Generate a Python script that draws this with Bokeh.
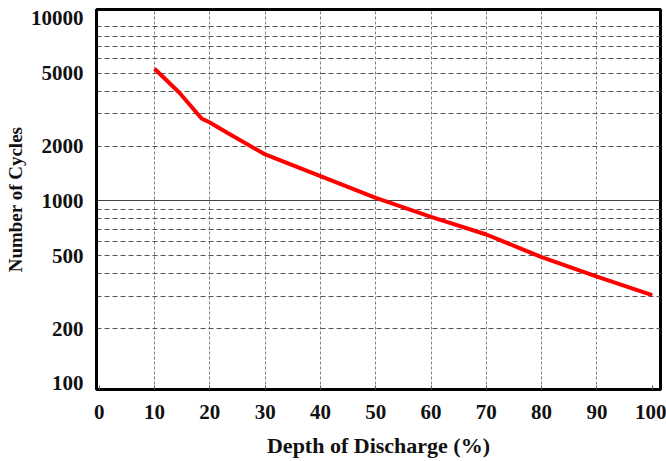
from bokeh.plotting import figure
from bokeh.models import FixedTicker, CustomJSTickFormatter, Grid, Range1d
from bokeh.embed import file_html
from bokeh.resources import INLINE

# Data
dod = [10, 14.5, 18.5, 20, 23.3, 30, 40, 50, 60, 70, 80, 90, 100]
cycles = [5300, 3920, 2830, 2690, 2350, 1800, 1370, 1040, 818, 655, 492, 385, 305]

x_ticks = [0, 10, 20, 30, 40, 50, 60, 70, 80, 90, 100]
x_grid = [10, 20, 30, 40, 50, 60, 70, 80, 90]
y_ticks = [100, 200, 500, 1000, 2000, 5000, 10000]
y_grid = [200, 300, 400, 500, 600, 700, 800, 900,
          2000, 3000, 4000, 5000, 6000, 7000, 8000, 9000]
y_solid = [1000]

FONT = "Liberation Serif"
TXT = "#111111"

p = figure(width=666, height=460, y_axis_type="log",
           x_range=Range1d(-0.5, 101.5), y_range=Range1d(92.7, 11200),
           output_backend="svg", toolbar_location=None,
           min_border_left=96, min_border_right=6, min_border_top=9,
           min_border_bottom=0, background_fill_color="white",
           border_fill_color="white")

p.line(dod, cycles, line_color="#ff0000", line_width=4)

p.outline_line_color = "black"
p.outline_line_width = 3
p.outline_line_alpha = 1

# X axis
xa = p.xaxis[0]
xa.ticker = FixedTicker(ticks=x_ticks)
xa.axis_label = "Depth of Discharge (%)"
xa.major_tick_in = 4
xa.major_tick_out = 0
xa.minor_tick_line_color = None
xa.axis_line_color = "black"
xa.axis_line_width = 3
xa.major_tick_line_color = "#555555"
xa.major_label_standoff = 15
xa.axis_label_standoff = 11
xa.axis_label_text_font_size = "22px"

# Y axis
ya = p.yaxis[0]
ya.ticker = FixedTicker(ticks=y_ticks)
ya.formatter = CustomJSTickFormatter(code="return tick.toFixed(0);")
ya.axis_label = "Number of Cycles"
ya.major_tick_in = 0
ya.major_tick_out = 0
ya.minor_tick_line_color = None
ya.axis_line_color = "black"
ya.axis_line_width = 3
ya.major_label_standoff = 13
ya.axis_label_standoff = 2
ya.axis_label_text_font_size = "19px"

for ax in (xa, ya):
    ax.major_label_text_font = FONT
    ax.major_label_text_font_style = "bold"
    ax.major_label_text_font_size = "21px"
    ax.major_label_text_color = TXT
    ax.axis_label_text_font = FONT
    ax.axis_label_text_font_style = "bold"
    ax.axis_label_text_color = TXT

# Grids
p.xgrid[0].ticker = FixedTicker(ticks=x_grid)
p.xgrid[0].grid_line_color = "#808080"
p.xgrid[0].grid_line_dash = "3 2"
p.xgrid[0].grid_line_width = 1

p.ygrid[0].ticker = FixedTicker(ticks=y_grid)
p.ygrid[0].grid_line_color = "#555555"
p.ygrid[0].grid_line_dash = "5 3"
p.ygrid[0].grid_line_width = 1

g = Grid(dimension=1, ticker=FixedTicker(ticks=y_solid),
         grid_line_color="#444444", grid_line_width=1)
p.add_layout(g)

open("out.html", "w").write(file_html(p, INLINE))
